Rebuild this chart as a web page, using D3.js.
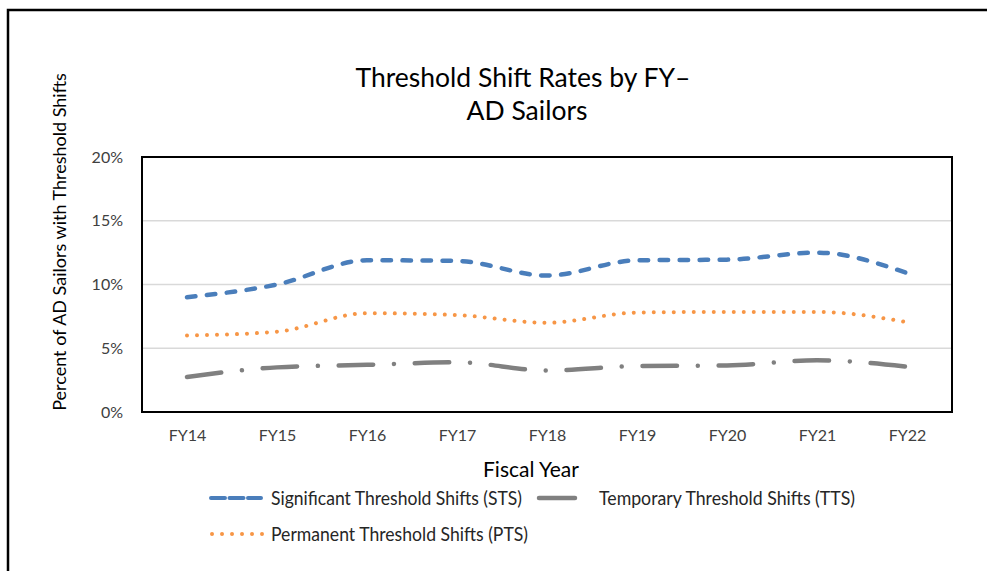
<!DOCTYPE html>
<html>
<head>
<meta charset="utf-8">
<script src="https://cdn.jsdelivr.net/npm/d3@7"></script>
<style>
  html, body { margin: 0; padding: 0; background: #fff; }
  svg { display: block; }
  text { font-family: Lato, "Open Sans", sans-serif; }
</style>
</head>
<body>
<svg id="chart" width="987" height="571"></svg>
<script>
// ---- data ----
const categories = ["FY14", "FY15", "FY16", "FY17", "FY18", "FY19", "FY20", "FY21", "FY22"];
const stsValues = [9.0, 10.0, 11.9, 11.85, 10.7, 11.9, 11.95, 12.5, 10.9];
const ptsValues = [6.0, 6.3, 7.75, 7.6, 7.0, 7.8, 7.85, 7.85, 7.05];
const ttsValues = [2.75, 3.5, 3.7, 3.9, 3.25, 3.6, 3.65, 4.05, 3.55];
const yTicks = [0, 5, 10, 15, 20];
const titleLines = ["Threshold Shift Rates by FY\u2013", "AD Sailors"];
const yTitle = "Percent of AD Sailors with Threshold Shifts";
const xTitle = "Fiscal Year";
const seriesNames = ["Significant Threshold Shifts (STS)", "Temporary Threshold Shifts (TTS)", "Permanent Threshold Shifts (PTS)"];

// ---- layout ----
const svg = d3.select("#chart");
const plot = { left: 142, right: 952, top: 157, bottom: 412 };

const x = d3.scalePoint().domain(categories).range([plot.left, plot.right]).padding(0.5);
const y = d3.scaleLinear().domain([0, 20]).range([plot.bottom, plot.top]);

// outer frame (partial, as in reference)
svg.append("path")
  .attr("d", "M8,571 L8,10 L987,10")
  .attr("fill", "none").attr("stroke", "#000").attr("stroke-width", 2.5);

// gridlines
svg.append("g")
  .selectAll("line").data(yTicks.filter(d => d > 0 && d < 20)).join("line")
  .attr("x1", plot.left).attr("x2", plot.right)
  .attr("y1", d => y(d)).attr("y2", d => y(d))
  .attr("stroke", "#d9d9d9").attr("stroke-width", 1.5);

// plot border
svg.append("rect")
  .attr("x", plot.left).attr("y", plot.top)
  .attr("width", plot.right - plot.left).attr("height", plot.bottom - plot.top)
  .attr("fill", "none").attr("stroke", "#000").attr("stroke-width", 2);

// y axis
const yAxis = svg.append("g").attr("transform", `translate(${plot.left},0)`)
  .call(d3.axisLeft(y).tickValues(yTicks).tickFormat(d => d + "%").tickSize(0).tickPadding(19));
yAxis.select(".domain").remove();
yAxis.selectAll("text").attr("font-size", 16).attr("fill", "#404040").style("font-family", "Lato, sans-serif");

// x axis
const xAxis = svg.append("g").attr("transform", `translate(0,${plot.bottom})`)
  .call(d3.axisBottom(x).tickSize(0).tickPadding(18));
xAxis.select(".domain").remove();
xAxis.selectAll("text").attr("font-size", 16).attr("fill", "#404040").style("font-family", "Lato, sans-serif");

// titles
svg.append("text").attr("x", 523).attr("y", 87).attr("text-anchor", "middle")
  .attr("font-size", 26.5).attr("fill", "#000").text(titleLines[0]);
svg.append("text").attr("x", 527).attr("y", 120).attr("text-anchor", "middle")
  .attr("font-size", 26.5).attr("fill", "#000").text(titleLines[1]);

svg.append("text").attr("transform", "translate(66,242) rotate(-90)")
  .attr("text-anchor", "middle").attr("font-size", 18).attr("fill", "#000").text(yTitle);

svg.append("text").attr("x", 531).attr("y", 477).attr("text-anchor", "middle")
  .attr("font-size", 21).attr("fill", "#000").text(xTitle);

// lines
const line = d3.line().x((d, i) => x(categories[i])).y(d => y(d)).curve(d3.curveMonotoneX);

const series = [
  { values: stsValues, color: "#4a7ebb", width: 4.5, dash: "8.5 11.5" },
  { values: ptsValues, color: "#f79646", width: 4, dash: "0.01 9.99" },
  { values: ttsValues, color: "#808080", width: 4.5, dash: "34.5 20.8 0.01 20.8" }
];
svg.append("g").selectAll("path").data(series).join("path")
  .attr("d", d => line(d.values))
  .attr("fill", "none")
  .attr("stroke", d => d.color)
  .attr("stroke-width", d => d.width)
  .attr("stroke-linecap", "round")
  .attr("stroke-dasharray", d => d.dash);

// legend
const legendItems = [
  { name: seriesNames[0], x1: 211, x2: 261, tx: 271, tw: 251, y: 498, color: "#4a7ebb", width: 4, dash: "14 4.5" },
  { name: seriesNames[1], x1: 539, x2: 575, tx: 599, tw: 256, y: 498, color: "#808080", width: 4.5, dash: null },
  { name: seriesNames[2], x1: 212, x2: 262, tx: 271, tw: 257, y: 534, color: "#f79646", width: 4, dash: "0.01 9.99" }
];
const lg = svg.append("g").selectAll("g").data(legendItems).join("g");
lg.append("line")
  .attr("x1", d => d.x1).attr("x2", d => d.x2)
  .attr("y1", d => d.y).attr("y2", d => d.y)
  .attr("stroke", d => d.color).attr("stroke-width", d => d.width)
  .attr("stroke-linecap", "round")
  .attr("stroke-dasharray", d => d.dash);
lg.append("text")
  .attr("x", d => d.tx)
  .attr("y", d => d.y + 6.5)
  .attr("font-size", 18.5).attr("fill", "#262626")
  .attr("textLength", d => d.tw).attr("lengthAdjust", "spacingAndGlyphs")
  .text(d => d.name);
</script>
</body>
</html>
